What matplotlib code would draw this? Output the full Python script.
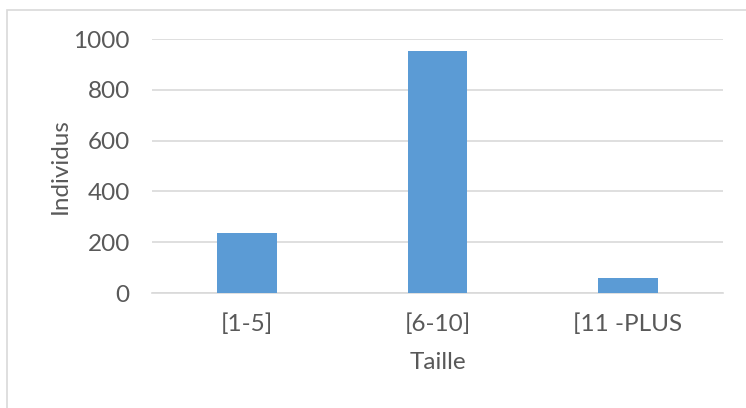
import matplotlib
matplotlib.use("Agg")
import matplotlib.pyplot as plt
from matplotlib.patches import Rectangle

# data
categories = ["[1-5]", "[6-10]", "[11 -PLUS"]
individus = [235, 951, 59]
y_ticks = [0, 200, 400, 600, 800, 1000]

plt.rcParams["font.family"] = ["Lato", "DejaVu Sans"]
FS = 17.5

fig = plt.figure(figsize=(7.46, 4.08), dpi=100)
ax = fig.add_axes([152 / 746, 1 - 293 / 408, 571 / 746, 254 / 408])

# outer chart frame (extends past the image edge)
fig.patches.append(Rectangle((7 / 746, -0.1), 1.2, 1 - 10 / 408 + 0.1,
                             transform=fig.transFigure, fill=False,
                             edgecolor="#d9d9d9", linewidth=1.2))

x = range(len(categories))
ax.bar(x, individus, width=0.315, color="#5b9bd5", zorder=3)

ax.set_xlim(-0.5, len(categories) - 0.5)
ax.set_ylim(0, 1000)
ax.set_yticks(y_ticks)
ax.set_xticks(list(x))
ax.set_xticklabels(categories)

ax.grid(axis="y", color="#d9d9d9", linewidth=1.2, zorder=0)
for s in ["top", "right", "left"]:
    ax.spines[s].set_visible(False)
ax.spines["bottom"].set_color("#d9d9d9")
ax.spines["bottom"].set_linewidth(1.2)
ax.tick_params(length=0, labelsize=FS, colors="#595959")
ax.tick_params(axis="y", pad=16)
ax.tick_params(axis="x", pad=15)

ax.set_xlabel("Taille", fontsize=FS, color="#595959", labelpad=12)
ax.set_ylabel("Individus", fontsize=FS, color="#595959", labelpad=2)

fig.savefig("out.png", dpi=100)
